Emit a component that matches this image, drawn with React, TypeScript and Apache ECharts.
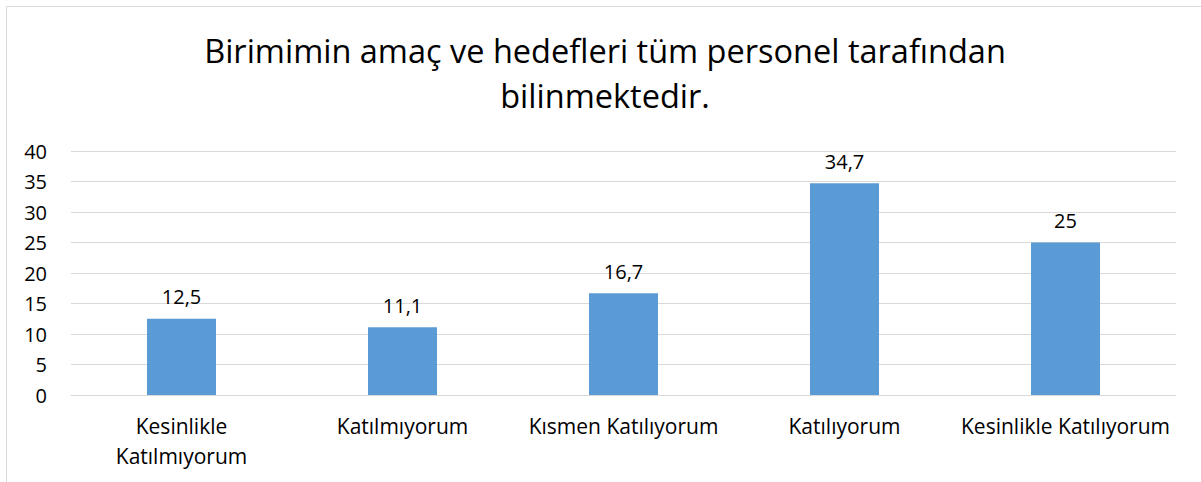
import React, { useEffect, useRef } from "react";
import * as echarts from "echarts";

const titleText = "Birimimin amaç ve hedefleri tüm personel tarafından\nbilinmektedir.";
const categories = [
  "Kesinlikle Katılmıyorum",
  "Katılmıyorum",
  "Kısmen Katılıyorum",
  "Katılıyorum",
  "Kesinlikle Katılıyorum",
];
const values = [12.5, 11.1, 16.7, 34.7, 25];
const yMin = 0;
const yMax = 40;
const yStep = 5;

const FONT = "'Open Sans', 'Noto Sans', sans-serif";

export default function App() {
  const ref = useRef<HTMLDivElement>(null);
  useEffect(() => {
    if (!ref.current) return;
    const chart = echarts.init(ref.current, null, { renderer: "svg" });
    chart.setOption({
      animation: false,
      backgroundColor: "#ffffff",
      graphic: [
        {
          type: "rect",
          shape: { x: 6.5, y: 6.5, width: 1200, height: 480 },
          style: { fill: "none", stroke: "#d9d9d9", lineWidth: 1 },
          silent: true,
        },
      ],
      title: {
        text: titleText,
        left: 600,
        top: 23,
        textAlign: "center",
        textStyle: {
          fontFamily: FONT,
          fontSize: 32.5,
          fontWeight: "normal",
          color: "#000000",
          lineHeight: 45,
        },
      },
      grid: { left: 71, right: 25, top: 151, bottom: 87, containLabel: false },
      xAxis: {
        type: "category",
        data: categories,
        axisLine: { lineStyle: { color: "#d9d9d9", width: 1 } },
        axisTick: { show: false },
        axisLabel: {
          fontFamily: FONT,
          fontSize: 21,
          color: "#000000",
          margin: 16,
          lineHeight: 30,
          interval: 0,
          formatter: (v: string) =>
            v === "Kesinlikle Katılmıyorum" ? "Kesinlikle\nKatılmıyorum" : v,
        },
      },
      yAxis: {
        type: "value",
        min: yMin,
        max: yMax,
        interval: yStep,
        axisLine: { show: false },
        axisTick: { show: false },
        splitLine: { lineStyle: { color: "#d9d9d9", width: 1 } },
        axisLabel: {
          fontFamily: FONT,
          fontSize: 20,
          color: "#000000",
          margin: 24,
        },
      },
      series: [
        {
          type: "bar",
          data: values,
          barWidth: 69,
          itemStyle: { color: "#5b9bd5" },
          label: {
            show: true,
            position: "top",
            distance: 12,
            fontFamily: FONT,
            fontSize: 20,
            color: "#000000",
            formatter: (p: any) => String(p.value).replace(".", ","),
          },
        },
      ],
    });
    return () => chart.dispose();
  }, []);
  return (
    <div
      ref={ref}
      style={{ position: "fixed", left: 0, top: 0, width: 1201, height: 482 }}
    />
  );
}
